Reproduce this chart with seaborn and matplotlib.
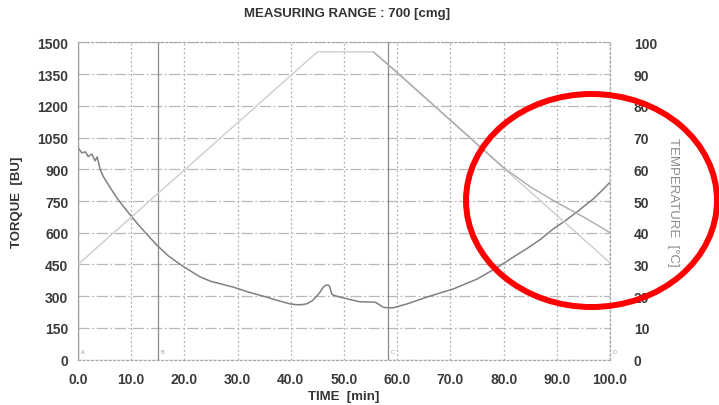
import matplotlib
matplotlib.use("Agg")
import matplotlib.pyplot as plt
from matplotlib.patches import Ellipse
import pandas as pd
import seaborn as sns

# ---------- data ----------
time_torque = [0, 0.7, 1.4, 1.9, 2.6, 3.2, 3.6, 4.1, 4.7, 6.0, 7.3, 8.5, 9.8, 11.0,
               12.5, 14.8, 17.0, 19.8, 22.9, 25.0, 29.2, 32.0, 35.4, 37.5, 39.8, 41.0,
               42.0, 43.0, 44.0, 44.9, 45.5, 46.1, 46.6, 47.0, 47.3, 47.7, 48.0, 49.2,
               51.0, 52.9, 55.5, 56.0, 57.3, 57.8, 59.2, 62.0, 65.6, 68.0, 70.5, 72.5,
               75.0, 77.0, 79.3, 82.0, 84.3, 87.0, 89.3, 91.5, 93.7, 96.8, 98.5, 100.0]
torque = [1002, 978, 982, 960, 972, 940, 958, 905, 868, 815, 765, 725, 685, 648,
          605, 542, 490, 440, 392, 370, 343, 320, 296, 280, 264, 260,
          260, 264, 278, 301, 320, 343, 352, 353, 345, 310, 305, 296,
          285, 274, 272, 270, 249, 246, 245, 265, 296, 315, 334, 355,
          381, 410, 444, 488, 524, 570, 618, 655, 697, 759, 800, 839]

# programmed temperature profile (light line)
time_set = [0, 45.0, 55.5, 100.0]
temp_set = [30, 97, 97, 30.5]

# measured temperature (darker line, lags during cooling)
time_meas = [55.5, 59.0, 65.0, 70.0, 75.0, 80.0, 85.0, 90.0, 95.0, 100.0]
temp_meas = [97, 92, 83, 75.5, 68, 60.5, 54.5, 49.5, 45, 40]

# event markers
marker_times = [0.0, 15.0, 58.3, 100.0]
marker_labels = ["A", "B", "C", "D"]

torque_ticks = list(range(0, 1501, 150))
temp_ticks = list(range(0, 101, 10))
time_ticks = list(range(0, 101, 10))

df_torque = pd.DataFrame({"time": time_torque, "torque": torque})
df_set = pd.DataFrame({"time": time_set, "temp": temp_set})
df_meas = pd.DataFrame({"time": time_meas, "temp": temp_meas})

sns.set_style("white")
plt.rcParams["font.family"] = ["Liberation Sans", "DejaVu Sans"]

fig = plt.figure(figsize=(7.19, 4.06), dpi=100)
ax = fig.add_axes([0.1085, 0.1116, 0.740, 0.7817])
ax2 = ax.twinx()

# grid
ax.set_xticks(time_ticks)
ax.set_yticks(torque_ticks)
ax.xaxis.grid(True, linestyle=(0, (1.5, 2)), color="#b0b0b0", linewidth=0.9)
ax.yaxis.grid(True, linestyle=(0, (9, 2, 1.5, 2)), color="#b8b8b8", linewidth=0.9)
ax.set_axisbelow(True)
for side in ["top", "bottom", "left", "right"]:
    ax.spines[side].set_linestyle((0, (1.5, 2)))
    ax.spines[side].set_color("#a8a8a8")
    ax.spines[side].set_linewidth(0.9)
    ax2.spines[side].set_visible(False)

# event markers
for t, lab in zip(marker_times, marker_labels):
    ax.axvline(t, color="#8a8a8a", linewidth=0.9, zorder=2)
    ax.text(t + 0.5, 25, lab, fontsize=4, color="#999999", ha="left", va="bottom")

# temperature lines
sns.lineplot(data=df_set, x="time", y="temp", ax=ax2, color="#cdcdcd", linewidth=1.0)
sns.lineplot(data=df_meas, x="time", y="temp", ax=ax2, color="#ababab", linewidth=1.0)

# torque
sns.lineplot(data=df_torque, x="time", y="torque", ax=ax, color="#808080", linewidth=1.1)

ax.set_xlim(0, 100)
ax.set_ylim(0, 1500)
ax2.set_ylim(0, 100)
ax2.set_yticks(temp_ticks)

tick_kw = dict(length=0, labelsize=10, labelcolor="#3a3a3a")
ax.tick_params(axis="x", pad=9, **tick_kw)
ax.tick_params(axis="y", pad=7, **tick_kw)
ax2.tick_params(axis="y", pad=17, **tick_kw)
ax.set_xticklabels([f"{v:.1f}" for v in time_ticks], fontweight="bold")
ax.set_yticklabels([str(v) for v in torque_ticks], fontweight="bold")
ax2.set_yticklabels([str(v) for v in temp_ticks], fontweight="bold")

ax.set_xlabel("TIME  [min]", fontsize=9.5, fontweight="bold", color="#333333", labelpad=3)
ax.set_ylabel("TORQUE  [BU]", fontsize=9.5, fontweight="bold", color="#333333", labelpad=10)
ax2.set_ylabel("TEMPERATURE  [°C]", fontsize=9.5, color="#8a8a8a", rotation=270,
               labelpad=16)

fig.text(0.4833, 0.9655, "MEASURING RANGE : 700 [cmg]", fontsize=9.5,
         fontweight="bold", color="#333333", ha="center", va="center")

# red annotation ellipse
ell = Ellipse((591.5 / 719, 1 - 201.5 / 406), 251 / 719, 213 / 406,
              transform=fig.transFigure, fill=False, edgecolor="#ff0000",
              linewidth=4.3, clip_on=False, zorder=10)
fig.patches.append(ell)

fig.savefig("out.png", dpi=100)
